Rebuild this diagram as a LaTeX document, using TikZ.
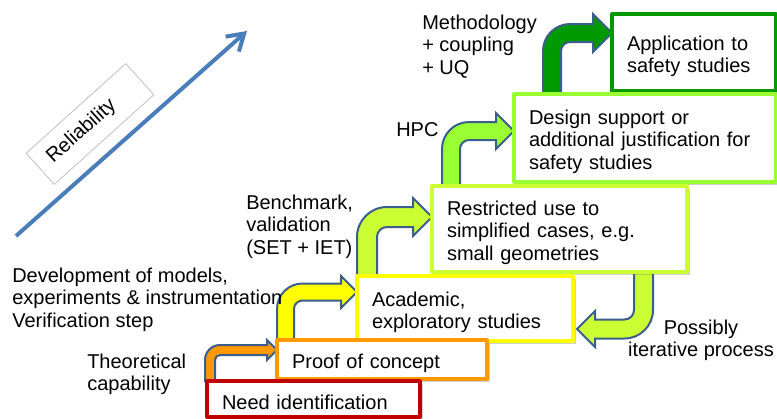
\documentclass[tikz,border=0pt]{standalone}
\usepackage{fontspec}
\setmainfont{Liberation Sans}
\usetikzlibrary{calc,arrows.meta,shadows,backgrounds}

\definecolor{needred}{HTML}{C00000}
\definecolor{proofor}{HTML}{FF9900}
\definecolor{acadyel}{HTML}{FFFF00}
\definecolor{restrgr}{HTML}{CCFF33}
\definecolor{designgr}{HTML}{99FF33}
\definecolor{appgr}{HTML}{009900}
\definecolor{stepblue}{HTML}{3B5E8C}
\definecolor{relblue}{HTML}{4A7EBB}

% bent step arrow: fill, foot of the shaft (left side), tip, shaft and head in px
\newcommand\bentup[5]{%
  \def\bw{(#4*0.75pt)}\def\bh{(#5*0.75pt)}%
  \draw[stepline, fill=#1] let \p1=#2, \p2=#3 in
    (\x1,\y1) -- (\x1,{\y2-\bw})
    .. controls (\x1,{\y2-0.172*\bw}) and ({\x1+0.672*\bw},{\y2+0.5*\bw}) .. ({\x1+1.5*\bw},{\y2+0.5*\bw})
    -- ({\x2-\bh},{\y2+0.5*\bw}) -- ({\x2-\bh},{\y2+\bh}) -- (\x2,\y2)
    -- ({\x2-\bh},{\y2-\bh}) -- ({\x2-\bh},{\y2-0.5*\bw}) -- ({\x1+1.5*\bw},{\y2-0.5*\bw})
    .. controls ({\x1+1.224*\bw},{\y2-0.5*\bw}) and ({\x1+\bw},{\y2-0.724*\bw}) .. ({\x1+\bw},{\y2-\bw})
    -- ({\x1+\bw},\y1) -- cycle;
}
% same, going down and back to the left
\newcommand\bentback[5]{%
  \def\bw{(#4*0.75pt)}\def\bh{(#5*0.75pt)}%
  \draw[stepline, fill=#1] let \p1=#2, \p2=#3 in
    (\x1,\y1) -- (\x1,{\y2+\bw})
    .. controls (\x1,{\y2+0.724*\bw}) and ({\x1-0.224*\bw},{\y2+0.5*\bw}) .. ({\x1-0.5*\bw},{\y2+0.5*\bw})
    -- ({\x2+\bh},{\y2+0.5*\bw}) -- ({\x2+\bh},{\y2+\bh}) -- (\x2,\y2)
    -- ({\x2+\bh},{\y2-\bh}) -- ({\x2+\bh},{\y2-0.5*\bw}) -- ({\x1-0.5*\bw},{\y2-0.5*\bw})
    .. controls ({\x1+0.328*\bw},{\y2-0.5*\bw}) and ({\x1+\bw},{\y2+0.172*\bw}) .. ({\x1+\bw},{\y2+\bw})
    -- ({\x1+\bw},\y1) -- cycle;
}

\begin{document}
\begin{tikzpicture}[x=0.75pt, y=-0.75pt, line join=round,
  stepbox/.style={draw, fill=white, line width=2.4pt, outer sep=0pt, inner xsep=11.25pt,
    anchor=north west, align=left, font=\fontsize{15}{16.9}\selectfont,
    execute at begin node={\rule{0pt}{16.5pt}},
    drop shadow={shadow xshift=2pt, shadow yshift=-2pt, opacity=0.3, fill=black!60}},
  steptext/.style={inner sep=0pt, anchor=north west, align=left, font=\fontsize{15}{16.9}\selectfont},
  stepline/.style={draw=stepblue, line width=1.5pt},
  relbox/.style={draw=black!25, line width=0.6pt, rotate=42, minimum width=100.5pt,
    minimum height=31.5pt, text width=81pt, inner xsep=9.75pt, align=left,
    font=\fontsize{15}{16.9}\selectfont},
  relarrow/.style={draw=relblue, line width=3pt, -{Straight Barb[length=12pt,width=15pt]}}]
\useasboundingbox (0,0) rectangle (777,418);
\clip (0,0) rectangle (777,418);

% the steps, top one first
\node[stepbox, draw=appgr, minimum width=123pt, minimum height=57.75pt, text width=100.5pt] (app) at (612,14) {Application to\\safety studies};
\node[stepbox, draw=designgr, minimum width=196.5pt, minimum height=66pt, text width=174pt] (design) at (514,94) {Design support or\\additional justification for\\safety studies};
\node[stepbox, draw=restrgr, minimum width=191.25pt, minimum height=64.5pt, text width=168.75pt] (restr) at (432,186) {Restricted use to\\simplified cases, e.g.\\small geometries};
\node[stepbox, draw=acadyel, minimum width=162pt, minimum height=48.75pt, text width=139.5pt] (acad) at (357,276) {Academic,\\exploratory studies};
\node[stepbox, draw=proofor, minimum width=157.5pt, minimum height=29.25pt, text width=135pt] (proof) at (277,340) {Proof of concept};
\node[stepbox, draw=needred, minimum width=159.75pt, minimum height=27pt, text width=137.25pt] (need) at (207,381) {Need identification};

\begin{scope}[on background layer]
\bentup{proofor}{($(need.north west)+(-2,0)$)}{($(proof.north west)+(0,10)$)}{10}{10}
\bentup{acadyel}{(proof.north west)}{($(acad.north west)+(0,16)$)}{17}{16}
\bentup{restrgr}{(acad.north west)}{($(restr.north west)+(0,31)$)}{20}{19}
\bentup{designgr}{($(restr.north west)+(10,0)$)}{($(design.north west)+(0,37)$)}{18}{18}
\bentup{appgr}{($(design.north west)+(29,0)$)}{($(app.north west)+(0,19)$)}{18}{19}
\bentback{restrgr}{($(restr.south east)+(-53,0)$)}{($(acad.north east)+(4,53)$)}{19}{18}
\end{scope}

\node[steptext] (meth) at (422,14.5) {Methodology\\+ coupling\\+ UQ};
\node[steptext] (hpc) at (396,122.5) {HPC};
\node[steptext] (bench) at (246,194.5) {Benchmark,\\validation\\(SET + IET)};
\node[steptext] (devel) at (12,267.5) {Development of models,\\experiments \& instrumentation\\Verification step};
\node[steptext] (theo) at (87,353.5) {Theoretical\\capability};
\node[steptext, anchor=north, align=center] (iter) at (701,319.5) {Possibly\\iterative process};

\coordinate (rel0) at (16,236);
\coordinate (rel1) at (247,31);
\draw[relarrow] (rel0) -- (rel1);
\node[relbox] (rel) at (90,124) {Reliability};
\end{tikzpicture}
\end{document}
